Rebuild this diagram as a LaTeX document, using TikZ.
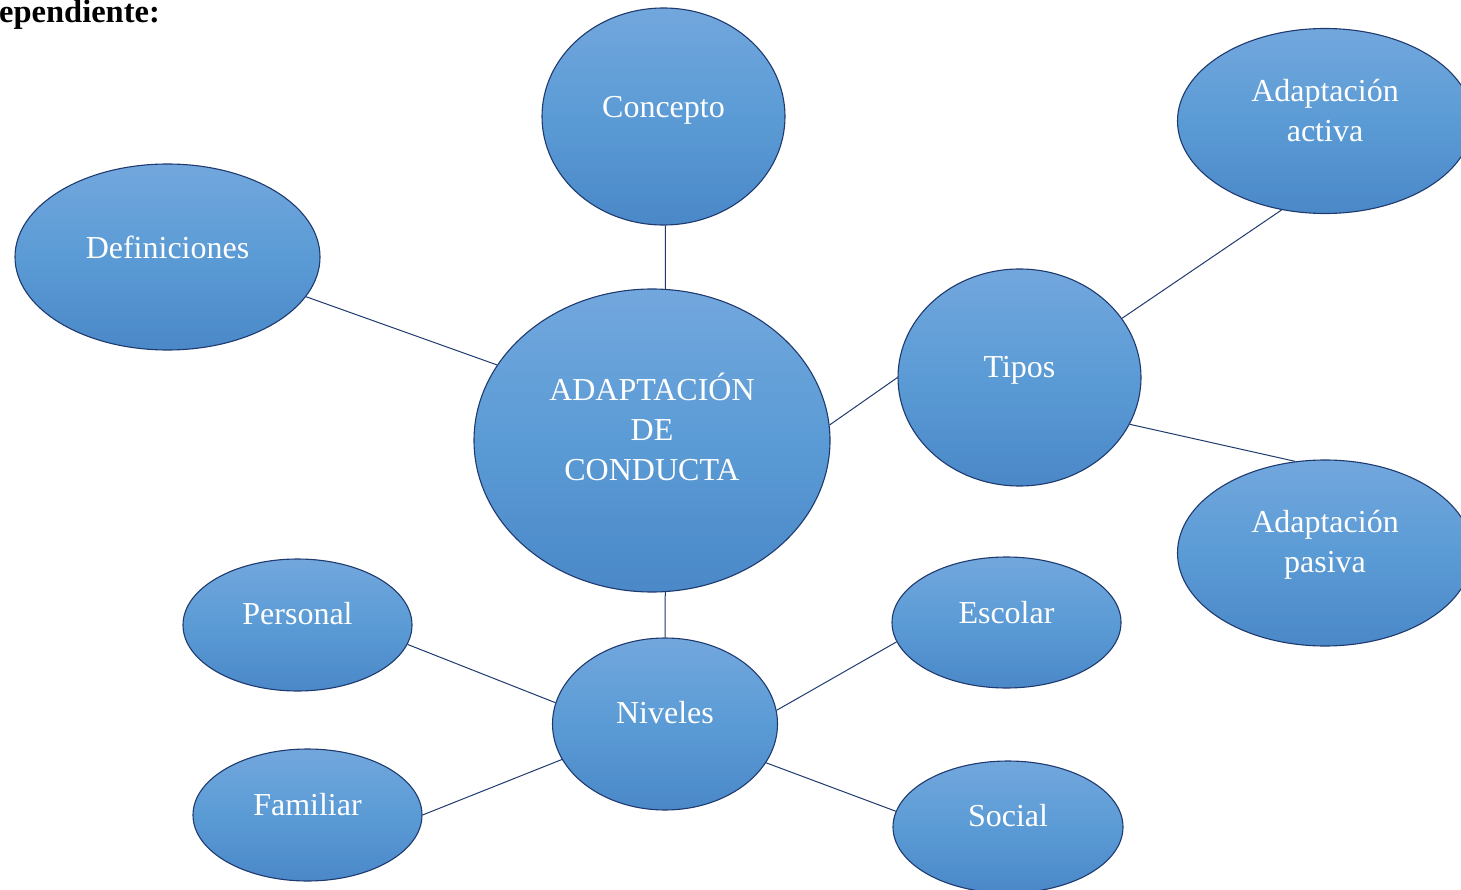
\documentclass[tikz,border=0pt]{standalone}
\usepackage{fontspec}
\setmainfont{Liberation Serif}
\usetikzlibrary{shapes.geometric}
\definecolor{bubtop}{HTML}{72A7DD}
\definecolor{bubmid}{HTML}{5B9BD5}
\definecolor{bubbot}{HTML}{4A88C8}
\definecolor{edgecol}{HTML}{1F3A6E}
\tikzset{
  bub/.style={ellipse, draw=edgecol, line width=1.1pt, top color=bubtop, bottom color=bubbot, middle color=bubmid, inner sep=0pt},
  txt/.style={text=white, font=\fontsize{32}{40}\selectfont, align=center, inner sep=0pt},
  link/.style={draw=edgecol, line width=1pt},
}
\begin{document}
\begin{tikzpicture}[x=1pt,y=-1pt]
\useasboundingbox (0,0) rectangle (1461,890);

\node[anchor=base west, inner sep=0pt, font=\fontsize{32.5}{36}\selectfont\bfseries] (title) at (-1,23) {ependiente:};

\node[bub, minimum width=243, minimum height=217] (concepto) at (663.5,116.5) {};
\node[bub, minimum width=305, minimum height=186] (defin) at (167.5,257) {};
\node[bub, minimum width=356, minimum height=303] (central) at (652,440.5) {};
\node[bub, minimum width=243, minimum height=217] (tipos) at (1019.5,377.5) {};
\node[bub, minimum width=295, minimum height=185] (activa) at (1325,121) {};
\node[bub, minimum width=295, minimum height=186] (pasiva) at (1325,553) {};
\node[bub, minimum width=229, minimum height=132] (personal) at (297.5,625) {};
\node[bub, minimum width=229, minimum height=131] (escolar) at (1006.5,622.5) {};
\node[bub, minimum width=225, minimum height=172] (niveles) at (665,724) {};
\node[bub, minimum width=229, minimum height=132] (familiar) at (307.5,815) {};
\node[bub, minimum width=230, minimum height=132] (social) at (1008,827) {};

\node[txt] (concepto-t) at ([yshift=6]concepto.center) {Concepto};
\node[txt] (defin-t) at ([yshift=10]defin.center) {Definiciones};
\node[txt] (central-t) at ([yshift=14]central.center) {ADAPTACIÓN\\DE\\CONDUCTA};
\node[txt] (tipos-t) at ([yshift=7]tipos.center) {Tipos};
\node[txt] (activa-t) at ([yshift=10]activa.center) {Adaptación\\activa};
\node[txt] (pasiva-t) at ([yshift=8]pasiva.center) {Adaptación\\pasiva};
\node[txt] (personal-t) at ([yshift=11]personal.center) {Personal};
\node[txt] (escolar-t) at ([yshift=10]escolar.center) {Escolar};
\node[txt] (niveles-t) at ([yshift=11]niveles.center) {Niveles};
\node[txt] (familiar-t) at ([yshift=10]familiar.center) {Familiar};
\node[txt] (social-t) at ([yshift=11]social.center) {Social};

\draw[link] (concepto.-89) -- (central.85);
\draw[link] (defin.-16) -- (central.154);
\draw[link] (central.5.6) -- (tipos.180);
\draw[link] (tipos.30) -- (activa.-116);
\draw[link] (tipos.-23) -- (pasiva.108);
\draw[link] (central.-85) -- (niveles.90);
\draw[link] (personal.-10) -- (niveles.169);
\draw[link] (familiar.0) -- (niveles.-161);
\draw[link] (niveles.7) -- (escolar.-170);
\draw[link] (niveles.-21) -- (social.172);
\end{tikzpicture}
\end{document}
